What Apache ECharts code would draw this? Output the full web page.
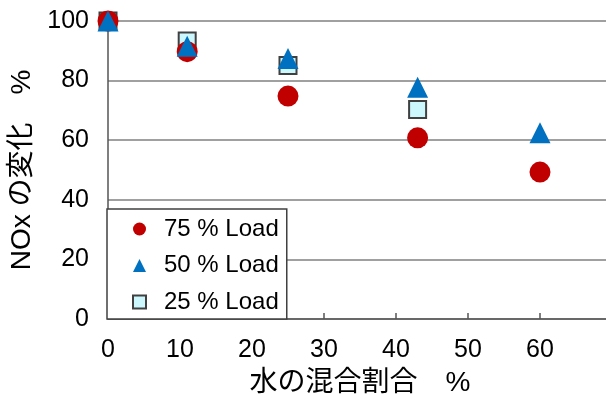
<!DOCTYPE html>
<html>
<head>
<meta charset="utf-8">
<script src="https://cdn.jsdelivr.net/npm/echarts@6/dist/echarts.min.js"></script>
<style>
html,body{margin:0;padding:0;background:#fff;}
#chart{width:606px;height:396px;}
</style>
</head>
<body>
<div id="chart"></div>
<script>
// ---- data ----
const seriesNames = ['75 % Load', '50 % Load', '25 % Load'];
const load75X = [0, 11, 25, 43, 60];
const load75Y = [100, 89.7, 74.8, 60.8, 49.3];
const load50X = [0, 11, 25, 43, 60];
const load50Y = [100, 91.5, 87.4, 77.8, 62.5];
const load25X = [0, 11, 25, 43];
const load25Y = [100, 93.3, 85.1, 70.3];
const xTicks = [0, 10, 20, 30, 40, 50, 60];
const yTicks = [0, 20, 40, 60, 80, 100];
const xTitle = '水の混合割合　%';
const yTitle = 'NOx の変化　%';

const pair = (xs, ys) => xs.map((x, i) => [x, ys[i]]);
const FONT = '"Liberation Sans", Arial, "Noto Sans CJK JP", sans-serif';

const chart = echarts.init(document.getElementById('chart'), null, {renderer: 'canvas'});
chart.setOption({
  animation: false,
  backgroundColor: '#ffffff',
  grid: {left: 108, right: -6, top: 21, bottom: 77, containLabel: false, outerBoundsMode: 'none'},
  xAxis: {
    type: 'value',
    min: 0, max: 70, interval: 10,
    name: xTitle,
    nameLocation: 'middle',
    nameGap: 50,
    nameTextStyle: {fontSize: 28, color: '#000', fontFamily: FONT},
    axisLine: {show: true, lineStyle: {color: '#555', width: 1.5}},
    axisTick: {show: true, inside: true, length: 6, lineStyle: {color: '#555', width: 1.5}},
    axisLabel: {
      fontSize: 25, color: '#000', fontFamily: FONT, margin: 19,
      showMaxLabel: false,
      formatter: v => (xTicks.indexOf(v) >= 0 ? String(v) : '')
    },
    splitLine: {show: false}
  },
  yAxis: {
    type: 'value',
    min: 0, max: 100, interval: 20,
    name: yTitle,
    nameLocation: 'middle',
    nameGap: 70,
    nameRotate: 90,
    nameTextStyle: {fontSize: 28, color: '#000', fontFamily: FONT},
    axisLine: {show: true, lineStyle: {color: '#555', width: 1.5}},
    axisTick: {show: false},
    axisLabel: {
      fontSize: 25, color: '#000', fontFamily: FONT, margin: 19,
      formatter: v => (yTicks.indexOf(v) >= 0 ? String(v) : '')
    },
    splitLine: {show: true, lineStyle: {color: '#808080', width: 1.5}}
  },
  legend: {
    data: seriesNames,
    orient: 'vertical',
    left: 107, top: 209,
    padding: [8, 8, 5, 25],
    itemWidth: 13, itemHeight: 13,
    itemGap: 12.5,
    backgroundColor: '#fff',
    borderColor: '#404040',
    borderWidth: 1.5,
    borderRadius: 0,
    z: 10,
    textStyle: {fontSize: 24, color: '#000', fontFamily: FONT, lineHeight: 22, padding: [0, 0, 0, 13]}
  },
  series: [
    {
      name: seriesNames[2], type: 'scatter', z: 2,
      symbol: 'rect', symbolSize: 17,
      itemStyle: {color: '#ccf7fc', borderColor: '#404040', borderWidth: 2, opacity: 1},
      data: pair(load25X, load25Y)
    },
    {
      name: seriesNames[0], type: 'scatter', z: 3,
      symbol: 'circle', symbolSize: 21,
      itemStyle: {color: '#c00000', opacity: 1},
      data: pair(load75X, load75Y)
    },
    {
      name: seriesNames[1], type: 'scatter', z: 4,
      symbol: 'triangle', symbolSize: 21,
      itemStyle: {color: '#0070c0', opacity: 1},
      data: pair(load50X, load50Y)
    }
  ]
});
</script>
</body>
</html>
